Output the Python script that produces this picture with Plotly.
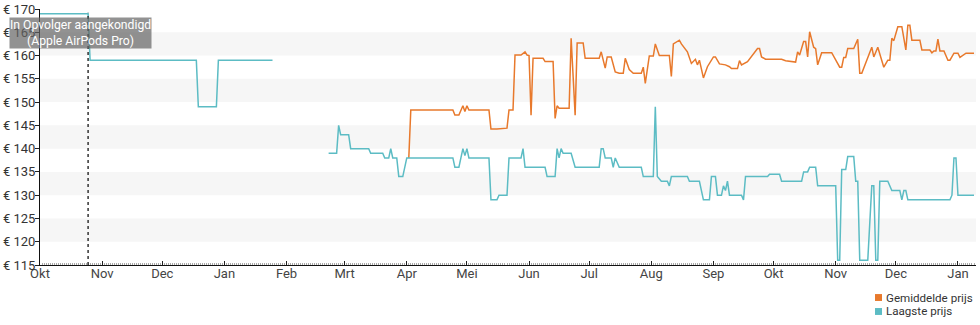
import datetime as dt
import plotly.graph_objects as go

# Start of the time axis; all day numbers below count from here
START = dt.date(2019, 10, 1)
END_DAY = 467

maand_starts = ["2019-10-01", "2019-11-01", "2019-12-01", "2020-01-01", "2020-02-01",
                "2020-03-01", "2020-04-01", "2020-05-01", "2020-06-01", "2020-07-01",
                "2020-08-01", "2020-09-01", "2020-10-01", "2020-11-01", "2020-12-01",
                "2021-01-01"]
maand_labels = ["Okt", "Nov", "Dec", "Jan", "Feb", "Mrt", "Apr", "Mei", "Jun", "Jul",
                "Aug", "Sep", "Okt", "Nov", "Dec", "Jan"]

# Laagste prijs (None marks a period without data)
laagste_dag = [0, 24, 25, 78, 79, 88, 89, 116,
               None,
               144, 148, 149, 150, 154, 155, 164, 165, 171, 172,
               174, 175, 176, 178, 179, 181, 183, 206, 207, 209,
               211, 212, 213, 214, 224, 225, 228, 229, 233, 234,
               240, 241, 242, 252, 253, 257, 258, 259, 260, 261,
               265, 267, 279, 280, 281, 282, 285, 286, 287, 289,
               300, 301, 306, 307, 308, 310, 313, 314, 315, 323,
               324, 329, 331, 334, 335, 337, 338, 340, 341, 342,
               343, 344, 350, 351, 352, 363, 364, 369, 370, 380,
               381, 383, 384, 387, 388, 397, 398, 399, 400, 402,
               403, 406, 407, 408, 409, 413, 415, 416, 417, 418,
               419, 423, 425, 429, 430, 431, 432, 433, 454, 455,
               456, 457, 458, 466]
laagste_prijs = [169, 169, 159, 159, 149, 149, 159, 159,
                 None,
                 139, 139, 145, 143, 143, 140, 140, 139, 139, 138,
                 138, 140, 138, 138, 134, 134, 138, 138, 136, 136,
                 140, 138.5, 140, 138, 138, 129, 129, 130, 130, 138,
                 138, 140, 136, 136, 134, 134, 140, 138, 140, 139,
                 139, 136, 136, 140, 140, 138, 138, 136, 138, 136,
                 136, 134, 134, 149, 134, 133, 133, 132, 134, 134,
                 133, 133, 129, 129, 134, 134, 130, 130, 132, 131,
                 133, 130, 130, 129, 134, 134, 134.5, 134.5, 133, 133,
                 135, 135, 136, 136, 132, 132, 116, 116, 135.5, 135.5,
                 138.3, 138.3, 133, 133, 116, 116, 132, 132, 116, 116,
                 133, 133, 131, 131, 129, 131, 131, 129, 129, 130,
                 138, 138, 130, 130]

# Gemiddelde prijs
gemiddeld_dag = [184, 185, 206, 207, 209, 211, 212, 213, 214, 224,
                 225, 228, 233, 234, 236, 237, 240, 242, 243, 244,
                 245, 246, 251, 252, 256, 257, 258, 259, 264, 265,
                 267, 268, 271, 272, 279, 280, 282, 283, 285, 287,
                 289, 291, 292, 294, 296, 300, 301, 302, 304, 306,
                 307, 309, 314, 315, 316, 319, 320, 323, 325, 327,
                 328, 329, 331, 333, 336, 337, 339, 342, 344, 345,
                 348, 349, 350, 353, 358, 359, 360, 362, 370, 372,
                 377, 378, 379, 381, 382, 383, 384, 386, 387, 388,
                 390, 395, 399, 400, 401, 402, 403, 406, 408, 409,
                 410, 413, 415, 416, 418, 421, 423, 424, 425, 426,
                 428, 430, 432, 433, 434, 435, 439, 440, 444, 445,
                 446, 447, 448, 449, 451, 453, 454, 456, 458, 459,
                 462, 466]
gemiddeld_prijs = [138, 148.3, 148.3, 147.2, 147.2, 149.2, 148, 149.2, 148.3, 148.3,
                   144.2, 144.2, 144.4, 148.3, 148.3, 160.1, 160.1, 160.8, 160.1, 160,
                   147.2, 159.4, 159.4, 158.7, 158.7, 146.5, 149.2, 148.7, 148.7, 163.7,
                   147.2, 162.7, 162.7, 159.4, 159.4, 160.8, 157.3, 159.7, 159.7, 156.5,
                   156.2, 156.2, 159.4, 157, 156.2, 156.2, 157.5, 154, 159.9, 159.9,
                   162.5, 160, 160, 155.5, 162.5, 163.3, 162.5, 160.8, 158.3, 159.2,
                   158, 159, 155.2, 157.6, 159.7, 159.7, 158.2, 158, 157.6, 157.2,
                   157.2, 158.9, 158, 158.7, 161.5, 161.5, 159.7, 159.2, 159.2, 158.9,
                   158.6, 160.8, 160.1, 163, 163, 159.7, 165.1, 161.8, 161.5, 158,
                   160.6, 160.6, 157.5, 157.5, 159.6, 159.6, 161.5, 161.5, 163.5, 156.2,
                   156.2, 159.7, 161.8, 159.7, 161.8, 157.5, 159, 159, 163.7, 163.2,
                   166.2, 166.2, 161.2, 166.5, 166.5, 163.3, 163.3, 161.2, 161.2, 160.6,
                   161, 161, 163.5, 161, 161, 159, 159, 160.5, 160.5, 159.6,
                   160.5, 160.5]

# Event marker
opvolger_dag = 24
opvolger_tekst = "In Opvolger aangekondigd<br>(Apple AirPods Pro)"

# Series names and colours for the key below the chart
reeks_namen = ["Gemiddelde prijs", "Laagste prijs"]
ORANJE = "#e8792c"
TURKOOIS = "#5cbcc4"
reeks_kleuren = [ORANJE, TURKOOIS]
FONT = "Roboto"


def to_dates(days):
    return [None if d is None else START + dt.timedelta(days=d) for d in days]


fig = go.Figure()

fig.add_trace(go.Scatter(
    x=to_dates(gemiddeld_dag), y=gemiddeld_prijs, mode="lines",
    line=dict(color=ORANJE, width=1.5), name=reeks_namen[0]))
fig.add_trace(go.Scatter(
    x=to_dates(laagste_dag), y=laagste_prijs, mode="lines",
    line=dict(color=TURKOOIS, width=1.5), name=reeks_namen[1]))

# Alternating horizontal bands
shapes = []
for lo in range(120, 170, 10):
    shapes.append(dict(type="rect", xref="paper", yref="y", x0=0, x1=1, y0=lo, y1=lo + 5,
                       fillcolor="#f6f6f6", line=dict(width=0), layer="below"))

# Dotted vertical line at the successor announcement
opvolger_datum = START + dt.timedelta(days=opvolger_dag)
shapes.append(dict(type="line", xref="x", yref="paper", x0=opvolger_datum, x1=opvolger_datum,
                   y0=0, y1=0.985, line=dict(color="#333333", width=1.5, dash="dot")))

annotations = [dict(
    xref="paper", yref="paper", x=0.0435, y=0.905, xanchor="center", yanchor="middle",
    text=opvolger_tekst, showarrow=False, align="center",
    font=dict(family=FONT, size=12.2, color="white"),
    bgcolor="rgba(100,100,100,0.7)", borderpad=0)]

# Compact key in the lower right corner: coloured square followed by the series name
key_x = 0.9017
key_rows = [-0.127, -0.1816]
sq_w, sq_h = 0.0075, 0.027
for naam, kleur, ky in zip(reeks_namen, reeks_kleuren, key_rows):
    shapes.append(dict(type="rect", xref="paper", yref="paper",
                       x0=key_x - 0.0021 - sq_w, x1=key_x - 0.0021,
                       y0=ky - sq_h / 2, y1=ky + sq_h / 2,
                       fillcolor=kleur, line=dict(width=0)))
    annotations.append(dict(xref="paper", yref="paper", x=key_x, y=ky,
                            xanchor="left", yanchor="middle", showarrow=False,
                            text=naam, font=dict(family=FONT, size=11.6, color="#333333")))

fig.update_layout(
    width=980, height=325,
    margin=dict(l=40, r=4, t=9, b=60),
    paper_bgcolor="white", plot_bgcolor="white",
    font=dict(family=FONT, size=13, color="#444444"),
    shapes=shapes,
    annotations=annotations,
    showlegend=False,
)

fig.update_xaxes(
    type="date", automargin=False,
    range=[START, START + dt.timedelta(days=END_DAY)],
    tickvals=maand_starts, ticktext=maand_labels,
    ticks="inside", ticklen=4, tickcolor="#222222", tickwidth=1,
    ticklabelstandoff=-4,
    showline=True, linecolor="#111111", linewidth=1,
    showgrid=False, zeroline=False,
    tickfont=dict(size=13, color="#444444"),
    minor=dict(ticks="inside", ticklen=2, dtick=86400000, tickcolor="#aaaaaa", tickwidth=1,
               showgrid=False),
)
fig.update_yaxes(
    automargin=False,
    range=[115, 170], tick0=115, dtick=5, tickprefix="€ ",
    ticks="outside", ticklen=4, tickcolor="#222222",
    ticklabelstandoff=-3,
    showline=True, linecolor="#111111", linewidth=1,
    showgrid=False, zeroline=False,
    tickfont=dict(size=13, color="#333333"),
)

fig.write_html("out.html")
